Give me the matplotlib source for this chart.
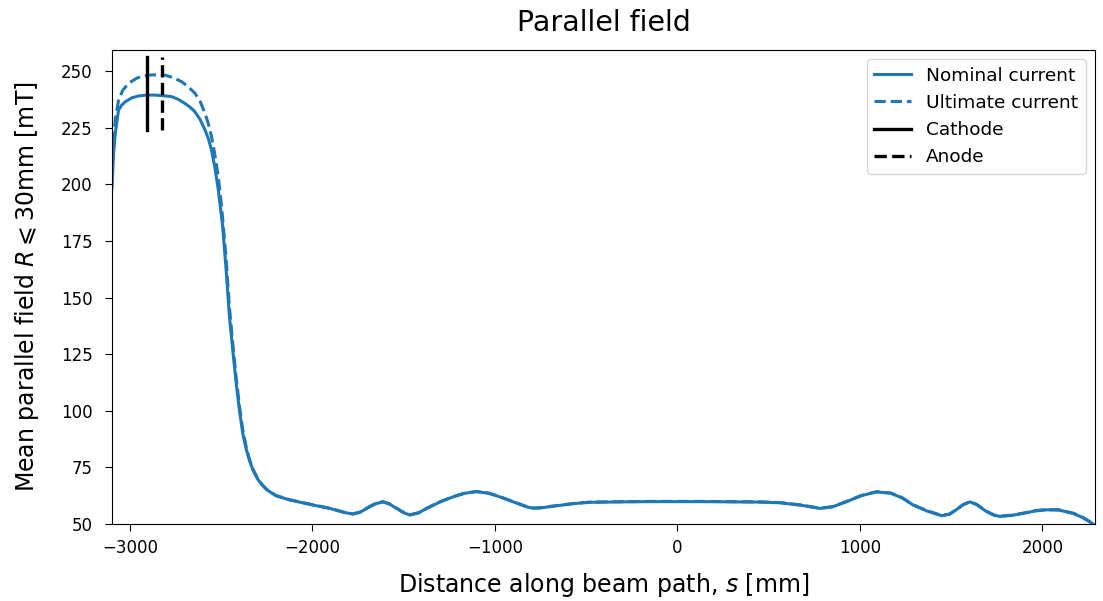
import numpy as np
import matplotlib.pyplot as plt

# values (s in mm, B in mT)
s_nom = [-3099, -3090, -3080, -3063, -3045, -3027, -2990, -2954, -2910, -2863,
         -2815, -2772, -2735, -2699, -2670, -2644, -2615, -2589, -2570, -2553,
         -2535, -2516, -2493, -2474, -2455, -2436, -2418, -2400, -2382, -2363,
         -2345, -2326, -2300, -2275, -2251, -2200, -2123, -2060, -1997, -1900,
         -1830, -1778, -1740, -1703, -1660, -1615, -1577, -1539, -1500, -1466,
         -1420, -1374, -1300, -1230, -1165, -1100, -1035, -973, -900, -826,
         -790, -753, -650, -560, -480, -300, -150, 0, 150, 300,
         452, 562, 680, 781, 850, 930, 1010, 1092, 1170, 1230,
         1292, 1370, 1448, 1490, 1530, 1565, 1603, 1640, 1690, 1735,
         1767, 1830, 1900, 1960, 2023, 2090, 2169, 2220, 2255, 2288]
B_nom = [198.0, 214.0, 223.0, 232.8, 235.0, 236.4, 238.2, 239.0, 239.4, 239.4,
         239.1, 238.7, 237.5, 235.7, 234.0, 232.0, 228.5, 224.0, 220.0, 215.0,
         207.5, 197.5, 182.0, 163.0, 141.5, 126.0, 112.0, 100.0, 90.0, 83.0,
         78.0, 73.8, 69.8, 67.2, 65.2, 62.5, 60.6, 59.5, 58.4, 56.8,
         55.2, 54.4, 55.2, 56.9, 58.8, 59.8, 58.8, 56.9, 55.0, 54.0,
         54.9, 56.9, 59.8, 62.0, 63.6, 64.3, 63.6, 62.0, 59.8, 57.6,
         57.0, 57.1, 58.2, 59.1, 59.6, 59.8, 59.9, 59.9, 59.9, 59.8,
         59.7, 59.4, 58.3, 56.9, 57.6, 60.0, 62.6, 64.2, 63.6, 61.6,
         58.4, 55.7, 53.7, 54.3, 56.4, 58.5, 59.8, 58.6, 55.7, 53.9,
         53.4, 53.8, 54.8, 55.8, 56.3, 56.2, 54.7, 52.9, 51.2, 49.5]

s_ult = [-3099, -3090, -3080, -3063, -3040, -3008, -2960, -2899, -2850, -2808,
         -2760, -2717, -2680, -2644, -2615, -2589, -2570, -2553, -2535, -2516,
         -2498, -2474, -2455, -2436, -2418, -2400, -2382, -2363, -2345, -2326,
         -2300, -2275, -2251, -2200, -2123, -2060, -1997, -1900, -1830, -1778,
         -1740, -1703, -1660, -1615, -1577, -1539, -1500, -1466, -1420, -1374,
         -1300, -1230, -1165, -1100, -1035, -973, -900, -826, -790, -753,
         -650, -560, -480, -300, -150, 0, 150, 300, 452, 562,
         680, 781, 850, 930, 1010, 1092, 1170, 1230, 1292, 1370,
         1448, 1490, 1530, 1565, 1603, 1640, 1690, 1735, 1767, 1830,
         1900, 1960, 2023, 2090, 2169, 2220, 2255, 2288]
B_ult = [204.0, 220.0, 229.0, 237.0, 241.5, 244.6, 247.0, 248.2, 248.4, 248.2,
         247.0, 245.3, 243.0, 240.2, 236.5, 231.3, 226.5, 221.0, 213.0, 203.3,
         190.0, 168.0, 145.5, 129.0, 114.5, 102.0, 91.5, 84.0, 78.5, 74.2,
         70.0, 67.3, 65.3, 62.6, 60.7, 59.6, 58.5, 56.9, 55.3, 54.5,
         55.3, 57.0, 58.9, 59.9, 58.9, 57.0, 55.1, 54.1, 55.0, 57.0,
         59.9, 62.1, 63.7, 64.4, 63.7, 62.1, 59.9, 57.7, 57.1, 57.2,
         58.3, 59.2, 59.7, 59.9, 60.0, 60.0, 60.0, 59.9, 59.8, 59.5,
         58.4, 57.0, 57.7, 60.1, 62.7, 64.3, 63.7, 61.7, 58.5, 55.8,
         53.8, 54.4, 56.5, 58.6, 59.9, 58.7, 55.8, 54.0, 53.5, 53.9,
         54.9, 55.9, 56.4, 56.3, 54.8, 53.0, 51.3, 49.6]

s_cathode = -2907
s_anode = -2825
marker_span = [224, 256]

xticks = [-3000, -2000, -1000, 0, 1000, 2000]
yticks = [50, 75, 100, 125, 150, 175, 200, 225, 250]

fig = plt.figure(figsize=(11.03, 6.01), dpi=100)
ax = fig.add_axes([0.1015, 0.128, 0.8912, 0.7888])

ax.plot(s_nom, B_nom, color='C0', lw=2.2, label='Nominal current')
ax.plot(s_ult, B_ult, color='C0', lw=2.2, ls='--', label='Ultimate current')
ax.plot([s_cathode, s_cathode], marker_span, color='k', lw=2.4, label='Cathode')
ax.plot([s_anode, s_anode], marker_span, color='k', lw=2.4, ls='--', label='Anode')

ax.set_xlim(-3099, 2288)
ax.set_ylim(50, 259.3)
ax.set_xticks(xticks)
ax.set_yticks(yticks)
ax.tick_params(labelsize=12, length=5)
ax.tick_params(axis='y', pad=9)
ax.tick_params(axis='x', pad=6)

ax.set_xlabel(r'Distance along beam path, $s$ [mm]', fontsize=17, labelpad=10)
ax.set_ylabel(r'Mean parallel field $R\leqslant$30mm [mT]', fontsize=17, labelpad=14)
ax.set_title('Parallel field', fontsize=20.5, pad=14)
ax.legend(loc='upper right', fontsize=13.3)

fig.savefig('out.png', dpi=100)
